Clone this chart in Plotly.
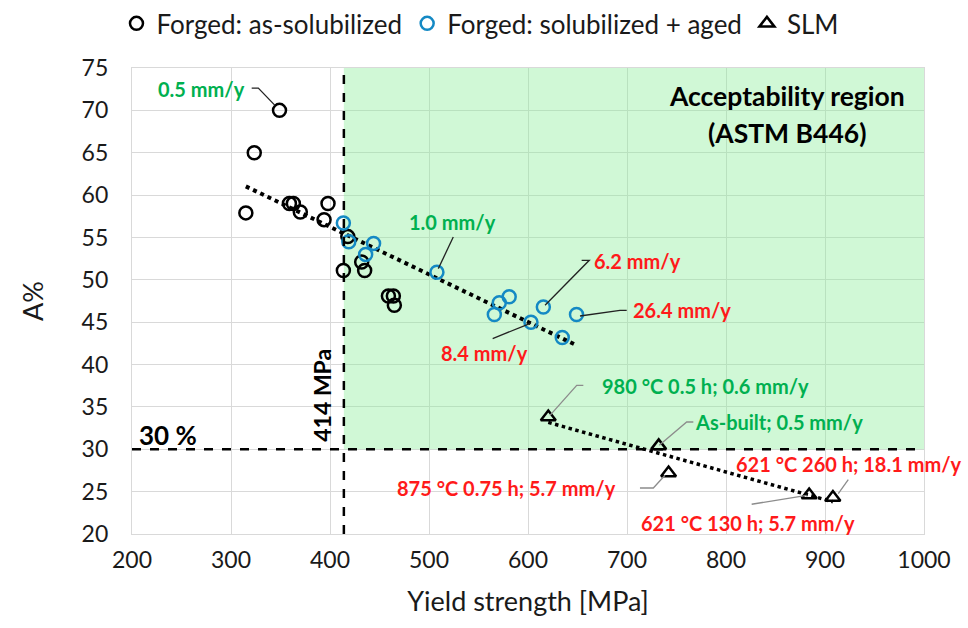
import numpy as np
import plotly.graph_objects as go

# Forged material, as-solubilized
forged_sol_ys = [349, 323.5, 315, 359, 363, 370, 398, 394, 418, 413.5, 432, 435, 459, 464, 465]
forged_sol_el = [70, 65, 57.9, 59, 59, 58, 59, 57.1, 55.1, 51.1, 52.1, 51.1, 48.1, 48.1, 47.0]

# Forged material, solubilized + aged
forged_aged_ys = [413.5, 419, 444, 436, 508, 571, 581, 566, 615.5, 603, 649, 634.6]
forged_aged_el = [56.7, 54.5, 54.3, 53.0, 50.9, 47.3, 48.0, 45.9, 46.8, 45.0, 45.9, 43.2]

# SLM material
slm_ys = [620.5, 732, 742, 884, 908]
slm_el = [33.8, 30.4, 27.2, 24.6, 24.3]

# ASTM B446 limits
ys_min = 414
el_min = 30

x_range = [200, 1000]
y_range = [20, 75]

GREEN = "#00B050"
RED = "#FF1A1A"
BLUE = "#1489C4"
FONT = "Lato"
TXT = "#1a1a1a"


def linear_trend(xs, ys):
    xs = np.asarray(xs, float)
    ys = np.asarray(ys, float)
    k, b = np.polyfit(xs, ys, 1)
    xt = np.array([xs.min(), xs.max()])
    return xt, k * xt + b


fig = go.Figure()

# acceptability region
fig.add_shape(type="rect", xref="x", yref="y", x0=ys_min, x1=x_range[1],
              y0=el_min, y1=y_range[1], fillcolor="rgba(138,238,153,0.40)",
              line_width=0, layer="between")

# limit lines
fig.add_shape(type="line", xref="x", yref="y", x0=ys_min, x1=ys_min,
              y0=y_range[0], y1=y_range[1],
              line=dict(color="black", width=2.5, dash="dash"))
fig.add_shape(type="line", xref="x", yref="y", x0=x_range[0], x1=x_range[1],
              y0=el_min, y1=el_min,
              line=dict(color="black", width=2.5, dash="dash"))

# trend lines
tx, ty = linear_trend(forged_sol_ys + forged_aged_ys, forged_sol_el + forged_aged_el)
fig.add_trace(go.Scatter(x=tx, y=ty, mode="lines", showlegend=False, hoverinfo="skip",
                         line=dict(color="black", width=4, dash="dot")))
sx, sy = linear_trend(slm_ys, slm_el)
fig.add_trace(go.Scatter(x=sx, y=sy, mode="lines", showlegend=False, hoverinfo="skip",
                         line=dict(color="black", width=3.5, dash="dot")))

fig.add_trace(go.Scatter(x=forged_sol_ys, y=forged_sol_el, mode="markers",
                         name="Forged: as-solubilized",
                         marker=dict(symbol="circle-open", size=13, color="black",
                                     line=dict(width=2.5, color="black"))))
fig.add_trace(go.Scatter(x=forged_aged_ys, y=forged_aged_el, mode="markers",
                         name="Forged: solubilized + aged",
                         marker=dict(symbol="circle-open", size=13, color=BLUE,
                                     line=dict(width=2.5, color=BLUE))))
fig.add_trace(go.Scatter(x=slm_ys, y=slm_el, mode="markers", name="SLM",
                         marker=dict(symbol="triangle-up-open", size=13, color="black",
                                     line=dict(width=2.5, color="black"))))

# callouts: text, text position, leader path, text colour, leader colour
callouts = [
    ("0.5 mm/y", (270.7, 72.47), [(320.9, 72.63), (327.6, 72.63), (344.4, 70.59)], GREEN, "#222"),
    ("1.0 mm/y", (524.2, 56.82), [(524.5, 55.05), (509.4, 51.32)], GREEN, "#222"),
    ("6.2 mm/y", (711.1, 52.22), [(654.2, 52.30), (661.9, 52.30), (617.2, 46.99)], RED, "#222"),
    ("26.4 mm/y", (755.3, 46.40), [(652.5, 45.73), (692.9, 46.40), (699.7, 46.40)], RED, "#222"),
    ("8.4 mm/y", (555.6, 41.32), [(564.3, 43.06), (603.0, 44.90)], RED, "#222"),
    ("980 °C 0.5 h; 0.6 mm/y", (778.8, 37.43), [(655.9, 37.55), (649.2, 37.55), (622.2, 34.0)], GREEN, "#8C8C8C"),
    ("As-built; 0.5 mm/y", (853.5, 33.24), [(767.0, 33.22), (760.3, 33.22), (732.6, 30.47)], GREEN, "#8C8C8C"),
    ("875 °C 0.75 h; 5.7 mm/y", (577.8, 25.40), [(713.1, 25.43), (726.6, 25.43), (738.4, 26.93)], RED, "#8C8C8C"),
    ("621 °C 260 h; 18.1 mm/y", (924.2, 28.29), [(923.5, 26.42), (913.4, 24.77)], RED, "#8C8C8C"),
    ("621 °C 130 h; 5.7 mm/y", (822.7, 21.27), [(825.9, 23.51), (881.5, 24.57)], RED, "#8C8C8C"),
]

for text, (ax_, ay_), path, tcol, lcol in callouts:
    d = "M " + " L ".join(f"{px},{py}" for px, py in path)
    fig.add_shape(type="path", xref="x", yref="y", path=d,
                  line=dict(color=lcol, width=1.3))
    fig.add_annotation(x=ax_, y=ay_, xref="x", yref="y", text=f"<b>{text}</b>",
                       showarrow=False, font=dict(family=FONT, size=20, color=tcol))

fig.add_annotation(x=862.1, y=71.64, xref="x", yref="y", text="<b>Acceptability region</b>",
                   showarrow=False, font=dict(family=FONT, size=26.5, color="black"))
fig.add_annotation(x=861.6, y=67.28, xref="x", yref="y", text="<b>(ASTM B446)</b>",
                   showarrow=False, font=dict(family=FONT, size=26.5, color="black"))
fig.add_annotation(x=391.6, y=36.4, xref="x", yref="y", text=f"<b>{ys_min} MPa</b>",
                   textangle=-90, showarrow=False,
                   font=dict(family=FONT, size=23, color="black"))
fig.add_annotation(x=236.4, y=31.64, xref="x", yref="y", text=f"<b>{el_min} %</b>",
                   showarrow=False, font=dict(family=FONT, size=26, color="black"))

fig.update_layout(
    width=968, height=628,
    margin=dict(l=132, r=44, t=68, b=94, autoexpand=False),
    paper_bgcolor="white", plot_bgcolor="white",
    font=dict(family=FONT, color=TXT),
    legend=dict(orientation="h", x=0.44, xanchor="center", y=1.146, yanchor="top",
                font=dict(family=FONT, size=26, color=TXT),
                itemsizing="trace", bgcolor="rgba(0,0,0,0)"),
    showlegend=True,
)

fig.update_xaxes(range=x_range, dtick=100, tick0=200,
                 showgrid=True, gridcolor="#D9D9D9", gridwidth=1.3,
                 zeroline=False, showline=True, linecolor="#D9D9D9", linewidth=1.3, mirror=True,
                 ticks="outside", ticklen=5, tickcolor="rgba(0,0,0,0)",
                 tickfont=dict(family=FONT, size=23, color=TXT),
                 title=dict(text="Yield strength [MPa]", standoff=20,
                            font=dict(family=FONT, size=27, color=TXT)))
fig.update_yaxes(range=y_range, dtick=5, tick0=20,
                 showgrid=True, gridcolor="#D9D9D9", gridwidth=1.3,
                 zeroline=False, showline=True, linecolor="#D9D9D9", linewidth=1.3, mirror=True,
                 ticks="outside", ticklen=18, tickcolor="rgba(0,0,0,0)",
                 tickfont=dict(family=FONT, size=23, color=TXT),
                 title=dict(text="A%", standoff=30,
                            font=dict(family=FONT, size=27, color=TXT)))

fig.write_html("out.html")
